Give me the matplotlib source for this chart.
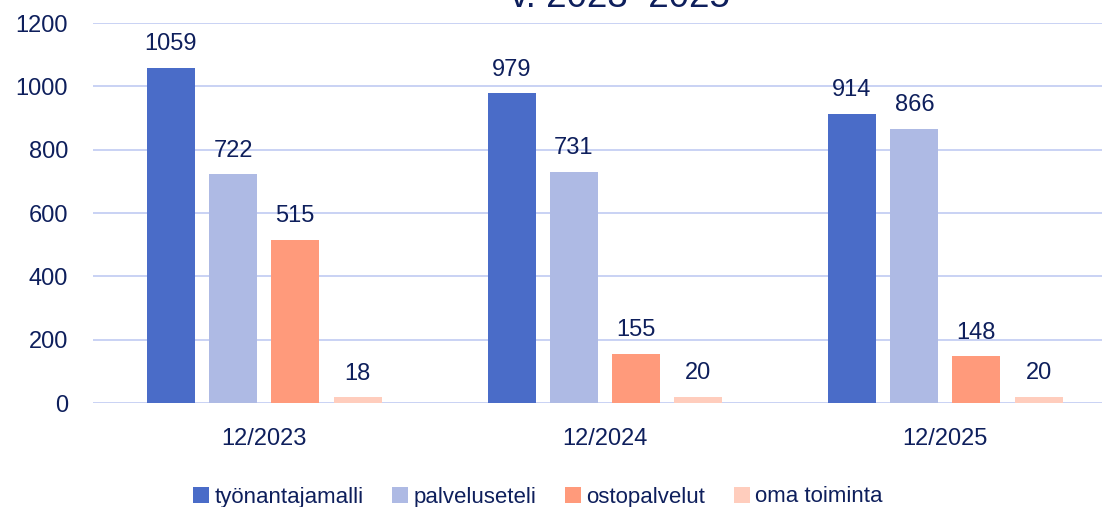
import numpy as np
import matplotlib.pyplot as plt
from matplotlib import font_manager

categories = ['12/2023', '12/2024', '12/2025']
series_names = ['työnantajamalli', 'palveluseteli', 'ostopalvelut', 'oma toiminta']
values = {
    'työnantajamalli': [1059, 979, 914],
    'palveluseteli': [722, 731, 866],
    'ostopalvelut': [515, 155, 148],
    'oma toiminta': [18, 20, 20],
}
colors = ['#4A6CC8', '#AEBAE4', '#FF9A7B', '#FFCDBD']
text_color = '#0E1F5C'
grid_color = '#C5CFF3'

names = {f.name for f in font_manager.fontManager.ttflist}
legend_font = 'Liberation Sans Narrow' if 'Liberation Sans Narrow' in names else 'Liberation Sans'
plt.rcParams['font.family'] = ['Liberation Sans', 'DejaVu Sans']

fig = plt.figure(figsize=(11.02, 5.07), dpi=100)
ax = fig.add_axes([0.0844, 0.205, 0.9156, 0.7496])

x = np.arange(len(categories))
width = 0.141
offsets = [-0.274, -0.091, 0.091, 0.274]
handles = []
for name, col, off in zip(series_names, colors, offsets):
    bars = ax.bar(x + off, values[name], width, color=col, label=name, zorder=3)
    handles.append(bars)
    for b, v in zip(bars, values[name]):
        ax.annotate(str(v), (b.get_x() + b.get_width() / 2, v),
                    xytext=(0, 9), textcoords='offset points',
                    ha='center', va='bottom', fontsize=17, color=text_color)

ax.set_xlim(-0.503, 2.46)
ax.set_ylim(0, 1200)
ax.set_yticks(range(0, 1201, 200))
ax.set_xticks(x)
ax.set_xticklabels(categories)
ax.yaxis.grid(True, color=grid_color, linewidth=1.3, zorder=0)
for s in ax.spines.values():
    s.set_visible(False)
ax.tick_params(axis='both', length=0, labelsize=17, colors=text_color)
ax.tick_params(axis='y', pad=18)
ax.tick_params(axis='x', pad=18)

fig.text(620 / 1102, 1 - 7 / 507, 'v. 2023–2025', ha='center', va='baseline',
         fontsize=26.5, color=text_color)

fig.legend(handles=handles, labels=series_names, loc='center', ncol=4,
           bbox_to_anchor=(538 / 1102, 1 - 497 / 507), frameon=False,
           handlelength=0.7, handleheight=0.7, handletextpad=0.25,
           columnspacing=1.3, labelcolor=text_color,
           prop={'family': legend_font, 'size': 16})

fig.savefig('out.png', dpi=100)
